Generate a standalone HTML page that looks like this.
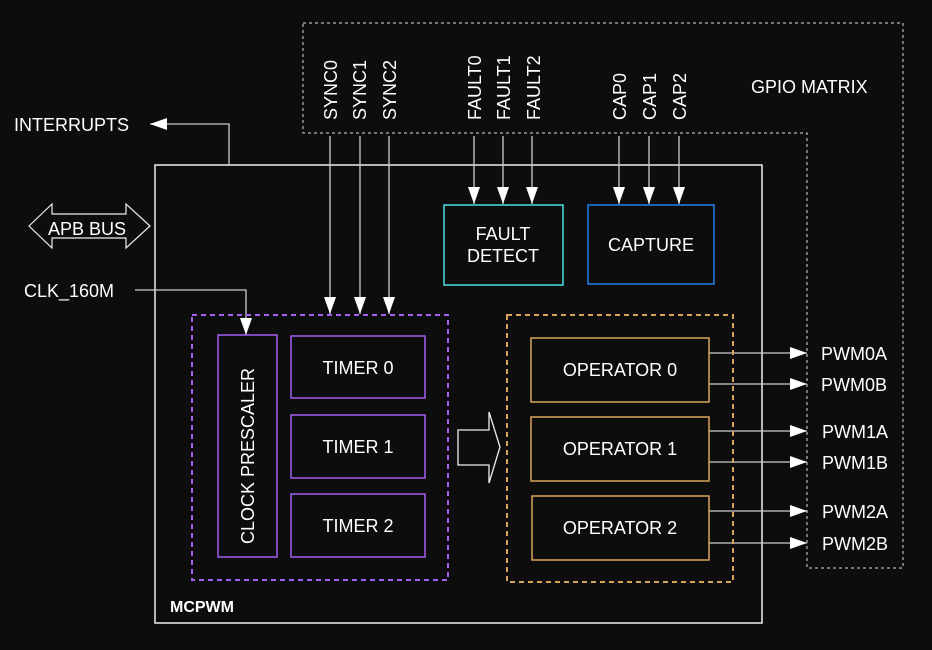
<!DOCTYPE html>
<html><head><style>
body{margin:0;background:#0d0d0d;}
svg text{font-family:"Liberation Sans",sans-serif;fill:#fff;font-size:18px;}
</style></head><body>
<svg width="932" height="645" viewBox="0 0 932 645" xmlns="http://www.w3.org/2000/svg">
<defs>
<marker id="b" markerWidth="18" markerHeight="12" refX="17" refY="6" orient="auto" markerUnits="userSpaceOnUse"><path d="M0,0L17,6L0,12z" fill="#fff"/></marker>
</defs>
<rect width="932" height="645" fill="#0d0d0d"/>
<path d="M303,23H903V568H807V133H303Z" fill="none" stroke="#ddd" stroke-width="1" stroke-dasharray="3,3"/>
<text x="751" y="93">GPIO MATRIX</text>
<rect x="155" y="165" width="607" height="458" fill="none" stroke="#eee" stroke-width="1.5"/>
<text x="170" y="612" font-weight="bold" style="font-size:16px">MCPWM</text>
<g fill="none" stroke="#ccc" stroke-width="1.3">
<path d="M229,165V124H150" marker-end="url(#b)"/>
<path d="M135,290H246V335" marker-end="url(#b)"/>
<path d="M330,136V314" marker-end="url(#b)"/>
<path d="M360,136V314" marker-end="url(#b)"/>
<path d="M389,136V314" marker-end="url(#b)"/>
<path d="M474,136V204" marker-end="url(#b)"/>
<path d="M503,136V204" marker-end="url(#b)"/>
<path d="M532,136V204" marker-end="url(#b)"/>
<path d="M619,136V204" marker-end="url(#b)"/>
<path d="M649,136V204" marker-end="url(#b)"/>
<path d="M679,136V204" marker-end="url(#b)"/>
<path d="M709,353H807" marker-end="url(#b)"/>
<path d="M709,384H807" marker-end="url(#b)"/>
<path d="M709,431H807" marker-end="url(#b)"/>
<path d="M709,462H807" marker-end="url(#b)"/>
<path d="M709,511H807" marker-end="url(#b)"/>
<path d="M709,543H807" marker-end="url(#b)"/>
</g>
<text x="14" y="131">INTERRUPTS</text>
<text x="24" y="297">CLK_160M</text>
<path d="M29,226L52,204V214H126V204L150,226L126,248V238H52V248Z" fill="none" stroke="#eee" stroke-width="1.2"/>
<text x="48" y="235">APB BUS</text>
<g transform="rotate(-90)">
<text x="-120" y="337">SYNC0</text>
<text x="-120" y="366">SYNC1</text>
<text x="-120" y="396">SYNC2</text>
<text x="-120" y="481">FAULT0</text>
<text x="-120" y="510">FAULT1</text>
<text x="-120" y="540">FAULT2</text>
<text x="-120" y="626">CAP0</text>
<text x="-120" y="656">CAP1</text>
<text x="-120" y="686">CAP2</text>
<text x="-544" y="254">CLOCK PRESCALER</text>
</g>
<rect x="444" y="205" width="119" height="80" fill="none" stroke="#4de0e6" stroke-width="1.5"/>
<text x="503" y="240" text-anchor="middle">FAULT</text>
<text x="503" y="262" text-anchor="middle">DETECT</text>
<rect x="588" y="205" width="126" height="79" fill="none" stroke="#1e80ee" stroke-width="1.5"/>
<text x="651" y="251" text-anchor="middle">CAPTURE</text>
<rect x="192" y="315" width="256" height="265" fill="none" stroke="#a35ff0" stroke-width="2" stroke-dasharray="5,4"/>
<g fill="none" stroke="#a35ff0" stroke-width="1.5">
<rect x="218" y="335" width="59" height="222"/>
<rect x="291" y="336" width="134" height="62"/>
<rect x="291" y="415" width="134" height="63"/>
<rect x="291" y="494" width="134" height="63"/>
</g>
<text x="358" y="374" text-anchor="middle">TIMER 0</text>
<text x="358" y="453" text-anchor="middle">TIMER 1</text>
<text x="358" y="532" text-anchor="middle">TIMER 2</text>
<path d="M458,430H489V412L500,447L489,483V465H458Z" fill="none" stroke="#eee" stroke-width="1.3"/>
<rect x="507" y="315" width="226" height="267" fill="none" stroke="#d9a55a" stroke-width="2" stroke-dasharray="5,4"/>
<g fill="none" stroke="#d9a55a" stroke-width="1.5">
<rect x="531" y="338" width="178" height="64"/>
<rect x="531" y="417" width="178" height="64"/>
<rect x="532" y="496" width="177" height="64"/>
</g>
<text x="620" y="376" text-anchor="middle">OPERATOR 0</text>
<text x="620" y="455" text-anchor="middle">OPERATOR 1</text>
<text x="620" y="534" text-anchor="middle">OPERATOR 2</text>
<text x="821" y="360">PWM0A</text>
<text x="821" y="391">PWM0B</text>
<text x="822" y="438">PWM1A</text>
<text x="822" y="469">PWM1B</text>
<text x="822" y="518">PWM2A</text>
<text x="822" y="550">PWM2B</text>
</svg>
</body></html>
